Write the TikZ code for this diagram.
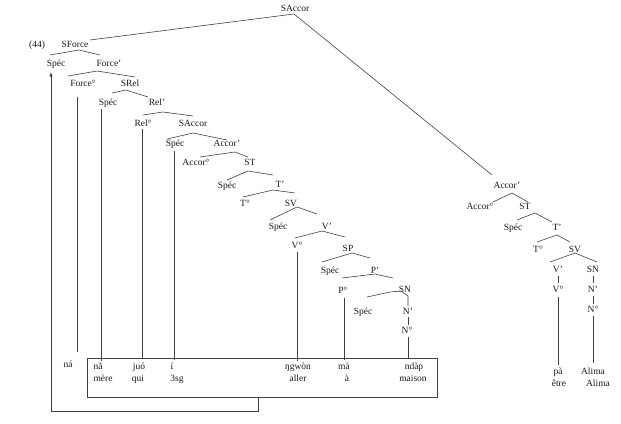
\documentclass[tikz,border=0pt]{standalone}
\usepackage{fontspec}
\setmainfont{Liberation Serif}
\usetikzlibrary{arrows.meta}
\begin{document}
\begin{tikzpicture}[x=1pt,y=-1pt,
  lab/.style={inner sep=0pt, anchor=mid, text=black!90, font=\fontsize{9.5}{11}\selectfont},
  br/.style={draw=black!75, line width=0.6pt}]
\useasboundingbox (0,0) rectangle (621,423);
% ---------- left tree labels
\node[lab] (top) at (295,9) {SAccor};
\node[lab] (ex) at (37,45) {(44)};
\node[lab] (SForce) at (75,45) {SForce};
\node[lab] (SpecF) at (56,64) {Spéc};
\node[lab] (ForceP) at (109,64) {Force’};
\node[lab] (ForceH) at (83,84) {Force°};
\node[lab] (SRel) at (130,84) {SRel};
\node[lab] (SpecR) at (108,103) {Spéc};
\node[lab] (RelP) at (157,103) {Rel’};
\node[lab] (RelH) at (143,124) {Rel°};
\node[lab] (SAccorA) at (193,124) {SAccor};
\node[lab] (SpecA) at (175,144) {Spéc};
\node[lab] (AccorPA) at (227,144) {Accor’};
\node[lab] (AccorHA) at (196,163) {Accor°};
\node[lab] (STA) at (250,163) {ST};
\node[lab] (SpecT) at (227,186) {Spéc};
\node[lab] (TPA) at (280,185) {T’};
\node[lab] (THA) at (245,204) {T°};
\node[lab] (SVA) at (291,204) {SV};
\node[lab] (SpecV) at (278,227) {Spéc};
\node[lab] (VPA) at (327,227) {V’};
\node[lab] (VHA) at (297,246) {V°};
\node[lab] (SPA) at (348,249) {SP};
\node[lab] (SpecP) at (330,271) {Spéc};
\node[lab] (PPA) at (375,271) {P’};
\node[lab] (PHA) at (343,291) {P°};
\node[lab] (SNA) at (405,290) {SN};
\node[lab] (SpecN) at (363,312) {Spéc};
\node[lab] (NPA) at (408,312) {N’};
\node[lab] (NHA) at (407,331) {N°};
% ---------- right tree labels
\node[lab] (AccorPB) at (507,186) {Accor’};
\node[lab] (AccorHB) at (480,207) {Accor°};
\node[lab] (STB) at (525,207) {ST};
\node[lab] (SpecTB) at (513,228) {Spéc};
\node[lab] (TPB) at (557,228) {T’};
\node[lab] (THB) at (538,250) {T°};
\node[lab] (SVB) at (575,250) {SV};
\node[lab] (VPB) at (558,270) {V’};
\node[lab] (SNB) at (593,270) {SN};
\node[lab] (VHB) at (558,290) {V°};
\node[lab] (NPB) at (593,290) {N’};
\node[lab] (NHB) at (593,310) {N°};
% ---------- words
\node[lab] (na1) at (68,365) {ná};
\node[lab] (na2) at (98,367) {nã};
\node[lab] (mere) at (103,379) {mère};
\node[lab] (juo) at (139,367) {juó};
\node[lab] (qui) at (138,379) {qui};
\node[lab] (ii) at (172,367) {í};
\node[lab] (sg) at (177,379) {3sg};
\node[lab] (ngwon) at (298,367) {ŋgwòn};
\node[lab] (aller) at (298,379) {aller};
\node[lab] (ma) at (344,367) {mà};
\node[lab] (aa) at (347,379) {à};
\node[lab] (ndap) at (414,367) {ndàp};
\node[lab] (maison) at (413,379) {maison};
\node[lab] (pa) at (558,372) {pà};
\node[lab] (etre) at (559,384) {être};
\node[lab] (alima1) at (593,372) {Alima};
\node[lab] (alima2) at (598,384) {Alima};
% ---------- main branches from the top SAccor
\coordinate (apex) at (294,14);
\coordinate (sfend) at (90,40);
\coordinate (apend) at (492,175);
\draw[br] (sfend) -- (apex) -- (apend);
% ---------- roofs, left tree
\draw[br] (50,55) -- (79,50) -- (100,55);
\draw[br] (68,76) -- (97,71) -- (135,77);
\draw[br] (112,93) -- (126,90) -- (148,97);
\draw[br] (143,115) -- (163,112) -- (193,116);
\draw[br] (167,139) -- (193,133) -- (227,140);
\draw[br] (200,157) -- (235,152) -- (248,157);
\draw[br] (227,180) -- (248,171) -- (273,175);
\draw[br] (243,197) -- (273,190) -- (295,193);
\draw[br] (270,220) -- (297,207) -- (317,214);
\draw[br] (295,238) -- (322,231) -- (345,237);
\draw[br] (322,262) -- (352,253) -- (370,258);
\draw[br] (342,278) -- (375,274) -- (393,278);
\draw[br] (367,297) -- (390,292) -- (401,291) -- (408,296) -- (408,306);
\draw[br] (408,317) -- (408,325);
% ---------- roofs, right tree
\draw[br] (493,202) -- (512,193) -- (528,202);
\draw[br] (517,220) -- (535,213) -- (552,222);
\draw[br] (537,242) -- (557,235) -- (570,242);
\draw[br] (550,262) -- (575,253) -- (597,262);
\draw[br] (558,276) -- (558,283);
\draw[br] (593,276) -- (593,283);
\draw[br] (593,296) -- (593,304);
% ---------- vertical lines to the words
\draw[br] (77,97) -- (77,352);
\draw[br] (101,109) -- (101,361);
\draw[br] (142,129) -- (142,359);
\draw[br] (174,151) -- (174,360);
\draw[br] (297,252) -- (297,361);
\draw[br] (344,298) -- (344,360);
\draw[br] (408,337) -- (408,359);
\draw[br] (558,297) -- (558,365);
\draw[br] (593,316) -- (593,363);
% ---------- box and movement arrow
\draw[br] (87,358) rectangle (437,397);
\draw[br,-{Latex[length=4.5pt,width=3.2pt]}] (258,397) -- (258,411) -- (51,411) -- (51,72);
\end{tikzpicture}
\end{document}
